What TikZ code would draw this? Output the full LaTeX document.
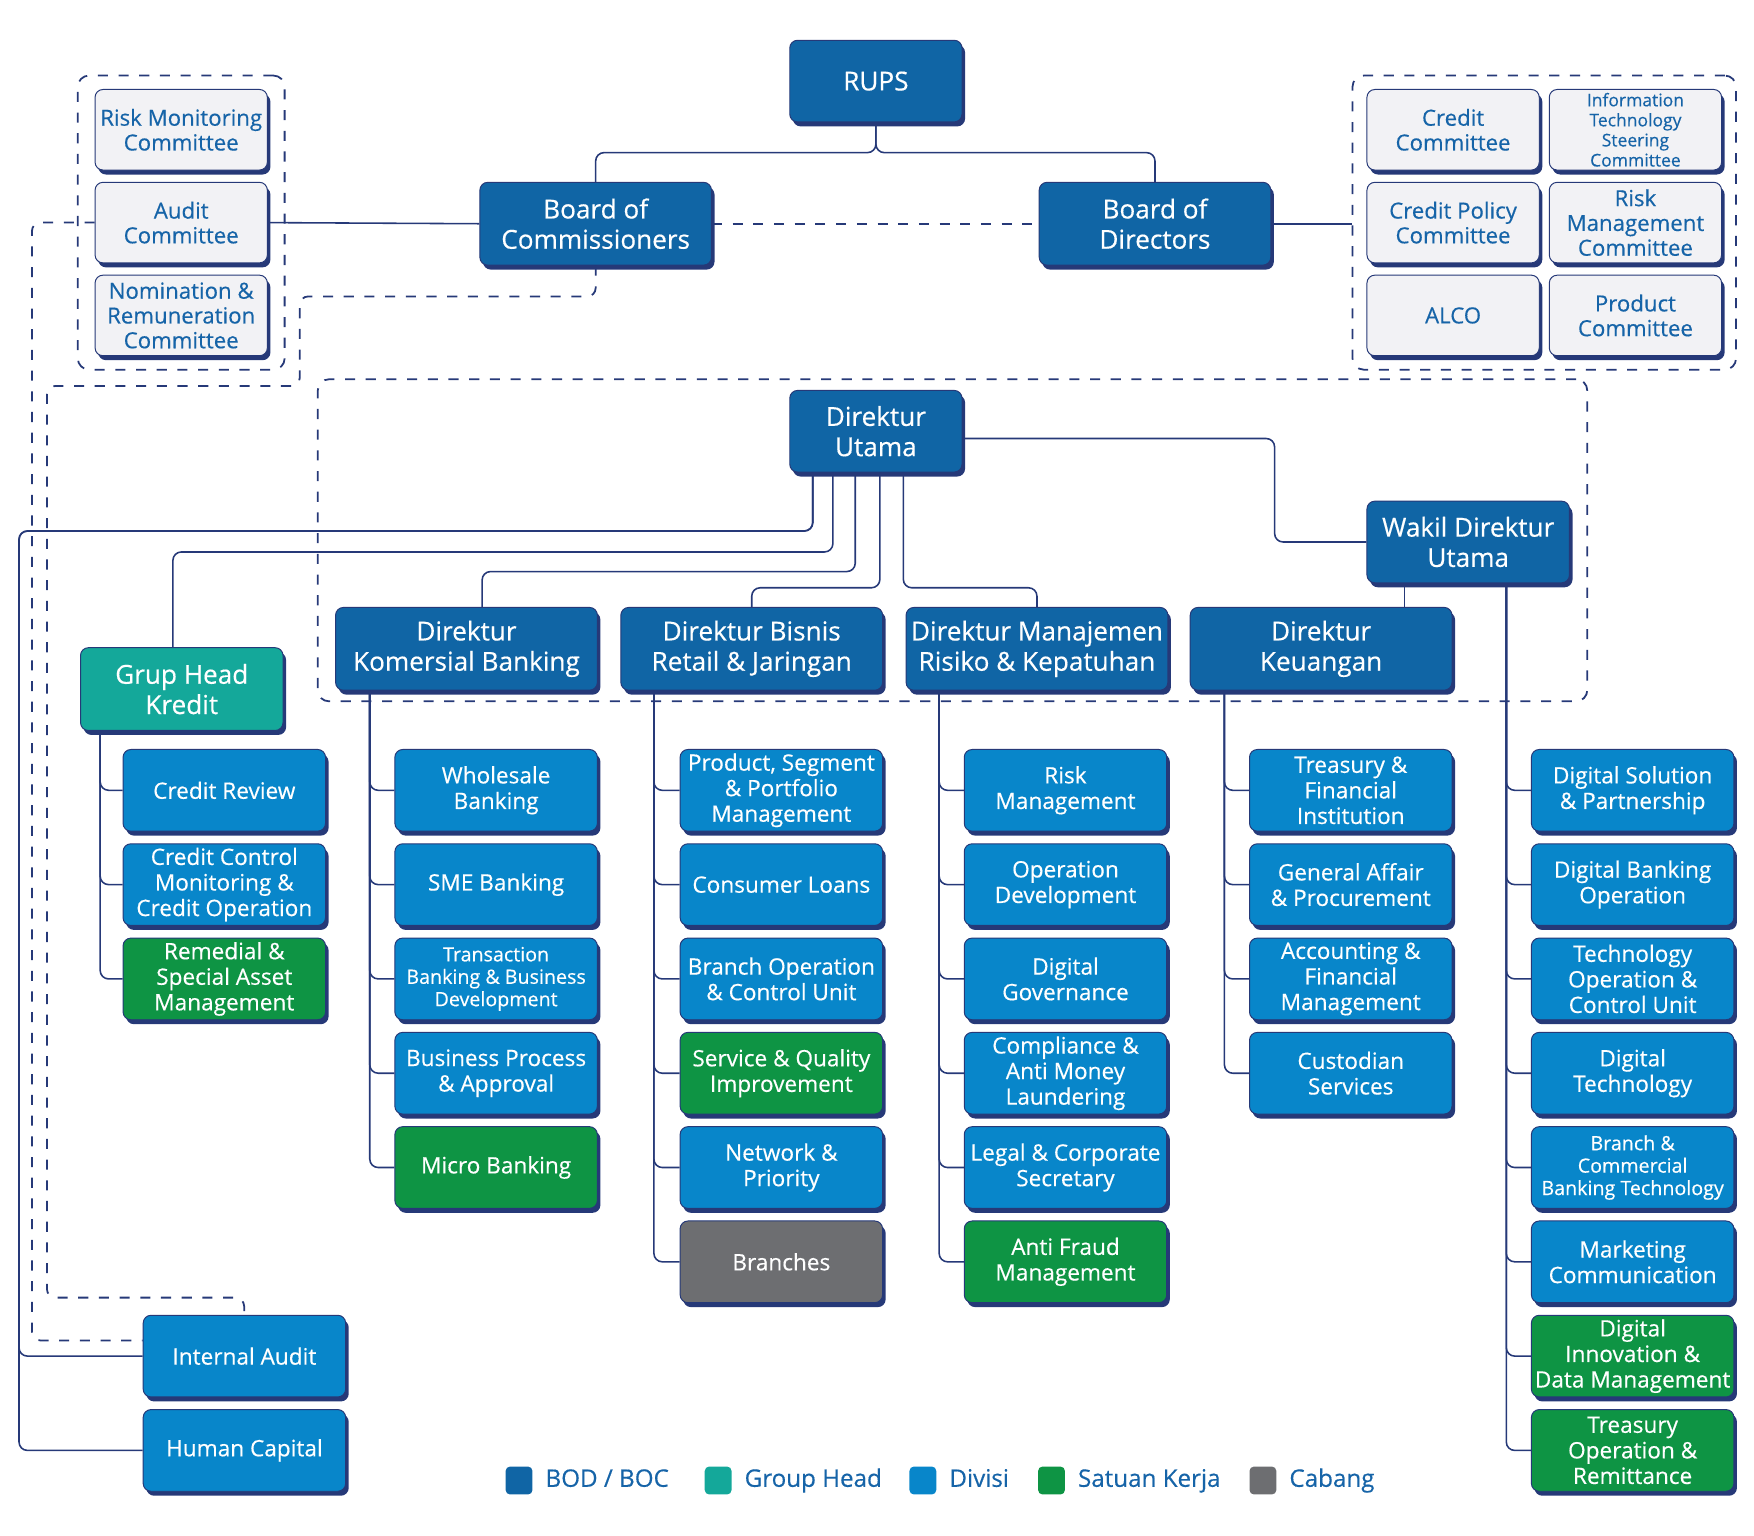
\documentclass[tikz,border=0pt]{standalone}
\usepackage{fontspec}
\setmainfont{Open Sans}[FakeBold=0.4]
\usetikzlibrary{shadows,fit,positioning}
\definecolor{navy}{RGB}{38,57,120}
\definecolor{bodblue}{RGB}{16,101,165}
\definecolor{grpteal}{RGB}{20,168,154}
\definecolor{divblue}{RGB}{8,134,202}
\definecolor{skgreen}{RGB}{14,148,68}
\definecolor{cbgray}{RGB}{109,110,113}
\definecolor{cmfill}{RGB}{242,242,245}
\definecolor{cmtext}{RGB}{22,100,168}

\begin{document}
\begin{tikzpicture}[x=0.2mm,y=-0.2mm,
	conn/.style={draw=navy,line width=0.8pt,rounded corners=1.5mm},
	dline/.style={conn,line width=0.9pt,dash pattern=on 1.8mm off 1.9mm},
	grp/.style={draw=navy,line width=0.9pt,rounded corners=2mm,dash pattern=on 1.8mm off 1.9mm,inner sep=0pt},
	unit/.style={draw=navy,line width=0.5pt,rounded corners=1.4mm,align=center,inner sep=0pt,text=white,
		general shadow={fill=navy,shadow xshift=0.55mm,shadow yshift=-0.8mm}},
	board/.style={unit,fill=bodblue,font=\fontsize{13.3}{15.4}\selectfont},
	comm/.style={unit,fill=cmfill,text=cmtext,minimum width=30.8mm,minimum height=14.4mm,font=\fontsize{11.3}{12.6}\selectfont},
	commsm/.style={comm,font=\fontsize{8.9}{10.2}\selectfont},
	div/.style={unit,fill=divblue,minimum width=36.2mm,minimum height=14.6mm,font=\fontsize{11.5}{13}\selectfont},
	divsm/.style={div,font=\fontsize{10}{11.4}\selectfont},
	sk/.style={div,fill=skgreen},
	cab/.style={div,fill=cbgray},
	legsq/.style={fill=#1,rounded corners=0.8mm,minimum width=4.8mm,minimum height=5mm,inner sep=0pt},
	legtxt/.style={text=cmtext,font=\fontsize{12.3}{14}\selectfont,inner sep=0pt,text height=9pt,text depth=2.6pt}
]
	\useasboundingbox (0,0) rectangle (1568,1373);

	\node[board,minimum width=30.8mm,minimum height=14.6mm] (rups) at (783,72.5) {RUPS};
	\node[board,minimum width=41.4mm,minimum height=14.8mm] (boc) at (532.5,200) {Board of\\Commissioners};
	\node[board,minimum width=41.4mm,minimum height=14.8mm] (bod) at (1032.5,200) {Board of\\Directors};
	\node[board,minimum width=30.8mm,minimum height=14.6mm] (du) at (783,385.5) {Direktur\\Utama};
	\node[board,minimum width=36.2mm,minimum height=14.6mm] (wdu) at (1312.5,484.5) {Wakil Direktur\\Utama};
	\node[board,minimum width=46.8mm,minimum height=14.8mm] (dkb) at (417,580) {Direktur\\Komersial Banking};
	\node[board,minimum width=46.8mm,minimum height=14.8mm] (dbr) at (672,580) {Direktur Bisnis\\Retail \& Jaringan};
	\node[board,minimum width=46.8mm,minimum height=14.8mm] (dmr) at (927,580) {Direktur Manajemen\\Risiko \& Kepatuhan};
	\node[board,minimum width=46.8mm,minimum height=14.8mm] (dk) at (1181,580) {Direktur\\Keuangan};
	\node[board,fill=grpteal,minimum width=36.2mm,minimum height=14.8mm] (ghk) at (162.5,616) {Grup Head\\Kredit};

	\foreach \t [count=\i] in {{Risk Monitoring\\Committee},{Audit\\Committee},{Nomination \&\\Remuneration\\Committee}}
		\node[comm] (l\i) at (162,{116+83*(\i-1)}) {\t};
	\foreach \t/\x/\y/\s [count=\i] in {{Credit\\Committee}/1299/116/comm,{Information\\Technology\\Steering\\Committee}/1462/116/commsm,
		{Credit Policy\\Committee}/1299/199/comm,{Risk\\Management\\Committee}/1462/199/comm,{ALCO}/1299/282/comm,{Product\\Committee}/1462/282/comm}
		\node[\s] (r\i) at (\x,\y) {\t};

	\node[grp,fit=(l1)(l3),inner xsep=3mm,inner ysep=2.4mm] (lgrp) {};
	\node[grp,fit=(r1)(r6),inner xsep=2.5mm,inner ysep=2.4mm] (rgrp) {};
	\node[grp,fit=(du)(wdu)(dkb)(dk),inner xsep=3.1mm,inner ysep=1.9mm] (dgrp) {};

	\draw[conn] (rups.south) -- ++(0,27) -| (boc.north);
	\draw[conn] (rups.south) -- ++(0,27) -| (bod.north);
	\draw[dline] (boc.east) -- (bod.west);
	\draw[conn] (l2.east) -- (boc.west);
	\draw[conn] (bod.east) -- (bod.east -| rgrp.west);

	\coordinate (ca) at ([xshift=3.6mm]ghk.south west);
	\coordinate (cb) at ([xshift=6.2mm]dkb.south west);
	\coordinate (cc) at ([xshift=6mm]dbr.south west);
	\coordinate (cd) at ([xshift=6mm]dmr.south west);
	\coordinate (ce) at ([xshift=6.2mm]dk.south west);
	\coordinate (cf) at ([xshift=25mm]wdu.south west);
	\coordinate (cw) at ([xshift=6.8mm]wdu.south west);
	\coordinate (lft) at (17,474.7);

	\foreach \t/\s [count=\i] in {Credit Review/div,{Credit Control\\Monitoring \&\\Credit Operation}/div,{Remedial \&\\Special Asset\\Management}/sk}{
		\node[\s] (a\i) at (200.5,{706.5+84.3*(\i-1)}) {\t};
		\draw[conn] (ca) |- (a\i.west);
	}
	\foreach \t/\s [count=\i] in {{Wholesale\\Banking}/div,SME Banking/div,{Transaction\\Banking \& Business\\Development}/divsm,
		{Business Process\\\& Approval}/div,Micro Banking/sk}{
		\node[\s] (b\i) at (443.5,{706.5+84.3*(\i-1)}) {\t};
		\draw[conn] (cb) |- (b\i.west);
	}
	\foreach \t/\s [count=\i] in {{Product, Segment\\\& Portfolio\\Management}/div,Consumer Loans/div,{Branch Operation\\\& Control Unit}/div,
		{Service \& Quality\\Improvement}/sk,{Network \&\\Priority}/div,Branches/cab}{
		\node[\s] (c\i) at (698.5,{706.5+84.3*(\i-1)}) {\t};
		\draw[conn] (cc) |- (c\i.west);
	}
	\foreach \t/\s [count=\i] in {{Risk\\Management}/div,{Operation\\Development}/div,{Digital\\Governance}/div,
		{Compliance \&\\Anti Money\\Laundering}/div,{Legal \& Corporate\\Secretary}/div,{Anti Fraud\\Management}/sk}{
		\node[\s] (d\i) at (952.5,{706.5+84.3*(\i-1)}) {\t};
		\draw[conn] (cd) |- (d\i.west);
	}
	\foreach \t/\s [count=\i] in {{Treasury \&\\Financial\\Institution}/div,{General Affair\\\& Procurement}/div,
		{Accounting \&\\Financial\\Management}/div,{Custodian\\Services}/div}{
		\node[\s] (e\i) at (1207.5,{706.5+84.3*(\i-1)}) {\t};
		\draw[conn] (ce) |- (e\i.west);
	}
	\foreach \t/\s [count=\i] in {{Digital Solution\\\& Partnership}/div,{Digital Banking\\Operation}/div,{Technology\\Operation \&\\Control Unit}/div,
		{Digital\\Technology}/div,{Branch \&\\Commercial\\Banking Technology}/divsm,{Marketing\\Communication}/div,
		{Digital\\Innovation \&\\Data Management}/sk,{Treasury\\Operation \&\\Remittance}/sk}{
		\node[\s] (f\i) at (1459.5,{706.5+84.3*(\i-1)}) {\t};
		\draw[conn] (cf) |- (f\i.west);
	}

	\node[div] (ia) at (218.5,1212.3) {Internal Audit};
	\node[div] (hc) at (218.5,1296.6) {Human Capital};

	\draw[conn] ([xshift=4.2mm]du.south west) |- (lft) |- (ia.west);
	\draw[conn] ([xshift=4.2mm]du.south west) |- (lft) |- (hc.west);
	\draw[conn] ([xshift=7.8mm]du.south west) -- ++(0,71) -| ([xshift=16.6mm]ghk.north west);
	\draw[conn] ([xshift=11.8mm]du.south west) -- ++(0,88.5) -| ([xshift=2.8mm]dkb.north);
	\draw[conn] ([xshift=16.2mm]du.south west) -- ++(0,103) -| (dbr.north);
	\draw[conn] ([xshift=20.4mm]du.south west) -- ++(0,103) -| (dmr.north);
	\draw[conn] ([yshift=-1.3mm]du.east) -- ++(279,0) |- (wdu.west);
	\draw[conn] (cw) -- (cw |- dk.north);

	\draw[dline] (l2.west) -- ++(-56,0) |- ([yshift=2.8mm]ia.west);
	\draw[dline] (boc.south) |- (268,265) |- (42,345) |- (218,1160) -- (ia.north);

	\foreach \c/\t/\x [count=\i] in {bodblue/{BOD / BOC}/464,grpteal/{Group Head}/642,divblue/Divisi/825,skgreen/{Satuan Kerja}/940,cbgray/Cabang/1129}{
		\node[legsq=\c] (sq\i) at (\x,1323.5) {};
		\node[legtxt,right=2.2mm of sq\i] (lt\i) {\t};
	}
\end{tikzpicture}
\end{document}
